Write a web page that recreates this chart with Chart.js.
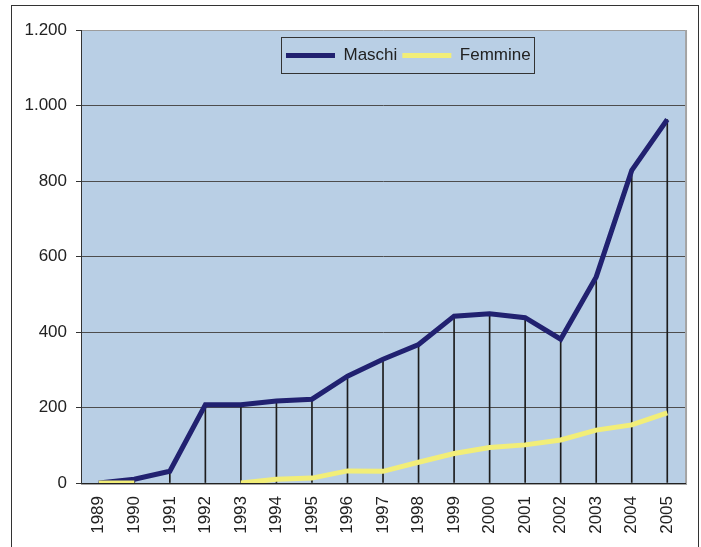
<!DOCTYPE html>
<html>
<head>
<meta charset="utf-8">
<title>Maschi / Femmine 1989-2005</title>
<script src="https://cdn.jsdelivr.net/npm/chart.js@4.4.1/dist/chart.umd.min.js"></script>
<style>
    html, body { margin: 0; padding: 0; background: #fff; }
</style>
</head>
<body>
<canvas id="graficoAnni" width="701" height="547"></canvas>
<script>
// dati
const anni = ['1989', '1990', '1991', '1992', '1993', '1994', '1995', '1996', '1997',
              '1998', '1999', '2000', '2001', '2002', '2003', '2004', '2005'];
const maschi = [0, 10, 31, 207, 207, 217, 222, 283, 328, 367, 442, 448, 438, 381, 546, 828, 963];
const femmine = [0, 0, null, null, 0, 10, 13, 32, 31, 55, 78, 94, 101, 114, 140, 154, 186];
const yTickValues = [0, 200, 400, 600, 800, 1000, 1200];
const yTickLabels = ['0', '200', '400', '600', '800', '1.000', '1.200'];

const FONT = "'Liberation Sans', Arial, sans-serif";

// sfondo, cornice esterna e riquadro della legenda
const cornice = {
    id: 'cornice',
    beforeDraw(chart) {
        const { ctx, chartArea: a } = chart;
        ctx.save();
        ctx.fillStyle = '#ffffff';
        ctx.fillRect(0, 0, chart.width, chart.height);
        ctx.fillStyle = '#b9cfe5';
        ctx.fillRect(a.left, a.top, a.right - a.left, a.bottom - a.top);
        // ombra grigia sul lato destro e in basso
        ctx.strokeStyle = '#a3a3a3';
        ctx.lineWidth = 2;
        ctx.beginPath();
        ctx.moveTo(a.right + 1, a.top);
        ctx.lineTo(a.right + 1, a.bottom + 1);
        ctx.lineTo(a.left, a.bottom + 1);
        ctx.stroke();
        ctx.strokeStyle = '#333333';
        ctx.lineWidth = 1;
        ctx.strokeRect(11.5, 5.5, 687, 600);
        ctx.restore();
    },
    afterLayout(chart) {
        const legend = chart.legend;
        if (!legend) return;
        legend.left = 281;
        legend.right = 701;
        legend.top = 42;
        legend.bottom = 85;
    },
    afterDraw(chart) {
        const boxes = chart.legend && chart.legend.legendHitBoxes;
        if (!boxes || !boxes.length) return;
        const first = boxes[0];
        const last = boxes[boxes.length - 1];
        const ctx = chart.ctx;
        ctx.save();
        ctx.strokeStyle = '#333333';
        ctx.lineWidth = 1;
        const x0 = Math.round(first.left - 5) + 0.5;
        const x1 = Math.round(last.left + last.width + 3) + 0.5;
        const y0 = Math.round(first.top - 10) + 0.5;
        const y1 = Math.round(first.top + first.height + 9) + 0.5;
        ctx.strokeRect(x0, y0, x1 - x0, y1 - y0);
        ctx.restore();
    }
};

const ctx = document.getElementById('graficoAnni');

new Chart(ctx, {
    type: 'line',
    data: {
        labels: anni,
        datasets: [
            {
                label: 'Maschi',
                data: maschi,
                borderColor: '#212170',
                backgroundColor: '#212170',
                borderWidth: 5,
                pointRadius: 0,
                tension: 0,
                order: 1
            },
            {
                label: 'Femmine',
                data: femmine,
                borderColor: '#f2ee78',
                backgroundColor: '#f2ee78',
                borderWidth: 5,
                pointRadius: 0,
                tension: 0,
                spanGaps: false,
                order: 0
            },
            {
                // linee verticali di riferimento sotto ogni punto dei maschi
                type: 'bar',
                label: 'linee',
                data: maschi,
                backgroundColor: '#1c1c1c',
                barThickness: 1,
                order: 2
            }
        ]
    },
    options: {
        responsive: false,
        animation: false,
        layout: { padding: { left: 0, right: 11, top: 0, bottom: 0 } },
        plugins: {
            tooltip: { enabled: false },
            legend: {
                position: 'top',
                align: 'start',
                maxHeight: 30,
                labels: {
                    boxWidth: 49,
                    boxHeight: 5,
                    padding: 5,
                    color: '#222',
                    font: { family: FONT, size: 17 },
                    filter: item => item.datasetIndex < 2,
                    sort: (a, b) => a.datasetIndex - b.datasetIndex,
                    generateLabels(chart) {
                        return Chart.defaults.plugins.legend.labels.generateLabels(chart).map(item => {
                            item.fillStyle = item.strokeStyle;
                            item.lineWidth = 0;
                            return item;
                        });
                    }
                }
            }
        },
        scales: {
            x: {
                offset: true,
                grid: { display: false, drawTicks: false },
                border: { display: true, color: '#222', width: 1 },
                ticks: {
                    autoSkip: false,
                    minRotation: 90,
                    maxRotation: 90,
                    padding: 13,
                    color: '#222',
                    font: { family: FONT, size: 17 }
                },
                afterFit(scale) { scale.height = 64; }
            },
            y: {
                min: 0,
                max: 1200,
                afterBuildTicks(scale) {
                    scale.ticks = yTickValues.map(v => ({ value: v }));
                },
                grid: {
                    color: c => (c.tick && c.tick.value === 1200) ? '#9c9c9c' : '#4d4d4d',
                    tickColor: '#333',
                    tickLength: 5,
                    drawTicks: true
                },
                border: { display: true, color: '#333', width: 1 },
                ticks: {
                    padding: 9,
                    color: '#222',
                    font: { family: FONT, size: 17 },
                    callback: (value, index) => yTickLabels[yTickValues.indexOf(value)]
                },
                afterFit(scale) { scale.width = 81; }
            }
        }
    },
    plugins: [cornice]
});
</script>
</body>
</html>
